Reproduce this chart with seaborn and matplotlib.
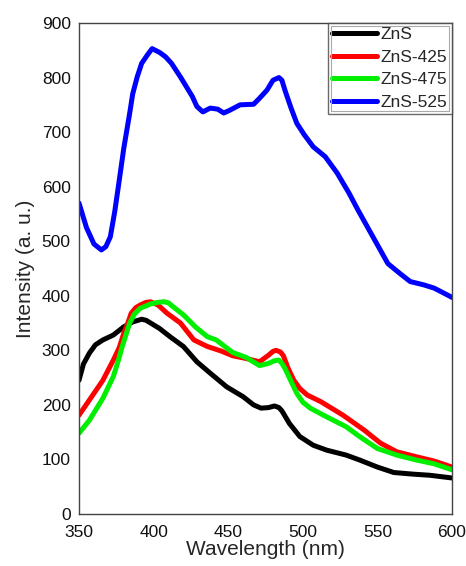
import matplotlib
matplotlib.use("Agg")
import matplotlib.pyplot as plt
from matplotlib.patches import Rectangle
import numpy as np
import pandas as pd
import seaborn as sns

# Photoluminescence spectra of ZnS samples
series_names = ["ZnS", "ZnS-425", "ZnS-475", "ZnS-525"]
series_colors = ["#000000", "#ff0000", "#00ee00", "#0000ff"]

zns_x = [350, 353, 357, 361, 366, 373, 380, 386, 392, 395, 398, 404, 411, 420, 429, 438,
         449, 460, 467, 472, 477, 481, 484, 486, 491, 498, 507, 516, 529, 538, 550,
         561, 574, 585, 600]
zns_y = [245, 275, 295, 310, 319, 328, 343, 352, 357, 355, 350, 340, 325, 307, 279,
         258, 233, 215, 200, 194, 195, 198, 195, 189, 166, 142, 126, 117, 108, 99,
         86, 76, 73, 71, 66]

zns425_x = [350, 357, 366, 373, 377, 380, 383, 385, 388, 391, 395, 398, 403, 409, 418,
            427, 436, 445, 453, 462, 471, 477, 480, 482, 485, 487, 490, 494, 498, 503,
            512, 527, 541, 552, 563, 576, 588, 600]
zns425_y = [181, 209, 245, 282, 305, 331, 352, 368, 378, 383, 388, 389, 383, 368, 350,
            319, 307, 299, 290, 285, 279, 291, 298, 300, 297, 290, 268, 245, 230, 218,
            206, 181, 154, 130, 114, 105, 97, 86]

zns475_x = [350, 357, 366, 373, 376, 379, 382, 384, 387, 391, 398, 403, 407, 410, 413,
            420, 428, 436, 442, 453, 462, 471, 477, 481, 484, 486, 488, 492, 496, 500,
            505, 516, 529, 538, 550, 563, 576, 588, 600]
zns475_y = [148, 172, 212, 252, 278, 307, 333, 350, 366, 377, 385, 388, 389, 387, 380,
            365, 343, 325, 319, 296, 287, 272, 276, 281, 282, 276, 267, 244, 221, 205,
            194, 178, 160, 142, 120, 108, 99, 92, 81]

zns525_x = [350, 355, 360, 365, 368, 371, 374, 377, 380, 384, 386, 389, 392, 396, 399,
            404, 408, 412, 418, 426, 429, 433, 438, 443, 447, 451, 458, 467, 471, 476,
            480, 484, 486, 488, 492, 496, 501, 507, 515, 523, 531, 537, 547, 557, 565,
            572, 581, 588, 593, 600]
zns525_y = [570, 525, 495, 484, 490, 508, 555, 612, 670, 735, 770, 801, 826, 842, 853,
            846, 838, 826, 801, 765, 747, 737, 744, 742, 735, 740, 750, 751, 762, 777,
            795, 800, 795, 777, 745, 716, 695, 673, 655, 625, 588, 557, 508, 459, 441,
            426, 420, 414, 407, 397]

xs = [zns_x, zns425_x, zns475_x, zns525_x]
ys = [zns_y, zns425_y, zns475_y, zns525_y]

frames = [pd.DataFrame({"Wavelength": x, "Intensity": y, "Sample": n})
          for n, x, y in zip(series_names, xs, ys)]
df = pd.concat(frames, ignore_index=True)

sns.set_style("white")
plt.rcParams["font.family"] = ["Liberation Sans", "DejaVu Sans"]

fig = plt.figure(figsize=(4.66, 5.66), dpi=100)
ax = fig.add_axes([0.1695, 0.0919, 0.8005, 0.8675])

sns.lineplot(data=df, x="Wavelength", y="Intensity", hue="Sample",
             hue_order=series_names, palette=series_colors,
             estimator=None, sort=True, linewidth=3.6, ax=ax)
for line in ax.get_lines():
    line.set_solid_joinstyle("round")
    line.set_solid_capstyle("round")

ax.set_xlim(350, 600)
ax.set_ylim(0, 900)
ax.set_xticks(np.arange(350, 601, 50))
ax.set_yticks(np.arange(0, 901, 100))
ax.tick_params(length=0, labelsize=12.5, colors="#111111")
ax.tick_params(axis="x", pad=8)
ax.tick_params(axis="y", pad=6)
ax.set_xlabel("Wavelength (nm)", fontsize=15, labelpad=0)
ax.set_ylabel("Intensity (a. u.)", fontsize=15, labelpad=5)
for sp in ax.spines.values():
    sp.set_color("#444444")
    sp.set_linewidth(1.0)

leg = ax.legend(loc="upper right", borderaxespad=0, fontsize=12.5,
                handlelength=2.6, handletextpad=0.2, labelspacing=0.42,
                borderpad=0.25, fancybox=False, frameon=True)
leg.get_frame().set_edgecolor("#444444")
leg.get_frame().set_linewidth(1.0)
for line in leg.get_lines():
    line.set_linewidth(3.6)

# inner light border of the legend box
fig.canvas.draw()
bb = leg.get_frame().get_window_extent().transformed(fig.transFigure.inverted())
inset_x = 3 / 466
inset_y = 3 / 566
fig.add_artist(Rectangle((bb.x0 + inset_x, bb.y0 + inset_y),
                         bb.width - 2 * inset_x, bb.height - 2 * inset_y,
                         transform=fig.transFigure, fill=False,
                         edgecolor="#aaaaaa", linewidth=0.8))

fig.savefig("out.png", dpi=100)
